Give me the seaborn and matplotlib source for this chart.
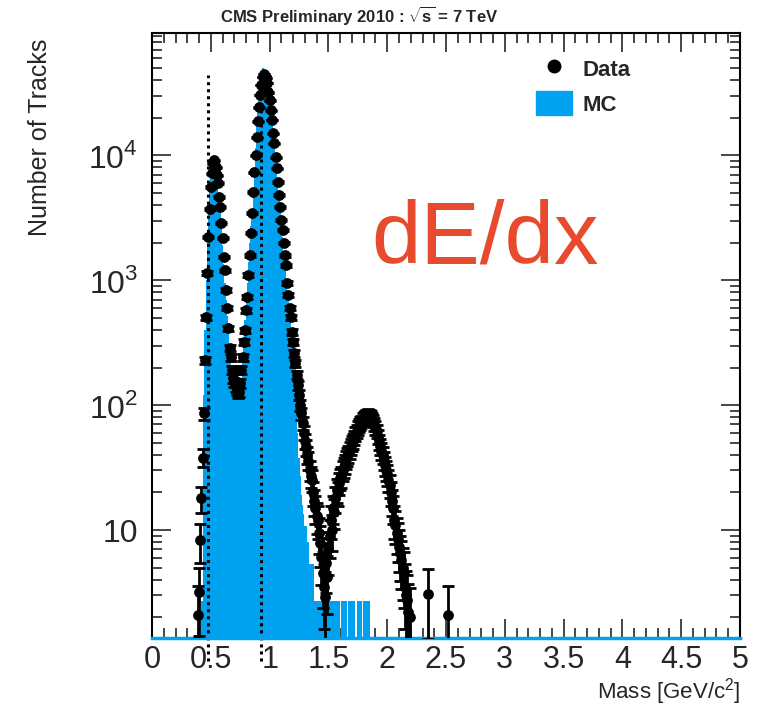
import matplotlib
matplotlib.use("Agg")
import matplotlib.pyplot as plt
from matplotlib.lines import Line2D
from matplotlib.patches import Patch
import numpy as np
import pandas as pd
import seaborn as sns

# data histogram: 0.01 GeV bins starting at 0.39
data_start = 0.39
data_counts = [
    2.1, 3.2, 8.3, 18, 38, 86, 229, 506, 1140, 2210,          # 0.39-0.48
    3700, 5550, 7180, 8630, 9120, 8000, 6900, 5970, 4610, 3840,  # 0.49-0.58
    2860, 2170, 1530, 1200, 830, 600, 413, 286, 242, 190,      # 0.59-0.68
    164, 153, 140, 132, 125, 128, 150, 190, 242, 319,          # 0.69-0.78
    398, 575, 731, 1100, 1585, 2380, 3440, 5060, 7310, 10000,  # 0.79-0.88
    13900, 18700, 24200, 30200, 36300, 42100, 44500, 43000, 41300, 37700,  # 0.89-0.98
    31900, 27500, 22900, 19100, 15000, 12500, 9640, 7870, 6080, 4790,  # 0.99-1.08
    3840, 3020, 2510, 1980, 1585, 1320, 946, 759, 597, 506,    # 1.09-1.18
    384, 319, 261, 217, 175, 145, 120, 100, 86, 72,            # 1.19-1.28
    60, 52, 46, 40, 36, 30, 27, 25, 20, 17,                    # 1.29-1.38
    15, 13, 12, 9.5, 7.9, 6.1, 4.5, 3.5, 2.9, 5.5,             # 1.39-1.48
    4.2, 7, 9, 12, 10, 15, 14, 18, 21, 20,                     # 1.49-1.58
    24, 26, 27, 30, 32, 34, 37, 39, 41, 44,                    # 1.59-1.68
    47, 50, 52, 55, 59, 62, 66, 69, 72, 74,                    # 1.69-1.78
    77, 79, 80, 82, 83, 84, 82, 80, 78, 75,                    # 1.79-1.88
    70, 66, 62, 56, 51, 47, 43, 40, 36, 33,                    # 1.89-1.98
    30, 28, 25, 23, 20, 17, 15, 12, 11, 9.5,                   # 1.99-2.08
    8.5, 7.3, 6.5, 5.8, 5, 4.5, 3.5, 3, 2.75, 2.2,             # 2.09-2.18
    2,                                                         # 2.19
]
# isolated entries in the far tail
tail_mass = [2.35, 2.52]
tail_counts = [3.1, 2.1]

# MC histogram: 0.01 GeV bins starting at 0.40
mc_start = 0.40
mc_counts = [
    0, 0, 2.7, 2.7, 120, 400, 1000, 2000, 3500, 5500,          # 0.40-0.49
    7800, 9300, 10000, 9600, 8600, 7600, 6300, 4800, 3600, 2600,  # 0.50-0.59
    1900, 1350, 950, 700, 520, 400, 310, 250, 200, 165,        # 0.60-0.69
    145, 130, 120, 116, 118, 130, 160, 220, 330, 480,          # 0.70-0.79
    700, 950, 1400, 2000, 2700, 3500, 5200, 7800, 11500, 17000,  # 0.80-0.89
    25000, 34000, 42000, 47000, 50000, 49500, 47000, 43000, 38500, 33000,  # 0.90-0.99
    27500, 23000, 19500, 15500, 12000, 9300, 7400, 5900, 4600, 3600,  # 1.00-1.09
    2800, 2200, 1700, 1350, 1050, 830, 680, 560, 480, 400,     # 1.10-1.19
    330, 270, 200, 116, 60, 38, 27, 19, 16, 13.5,              # 1.20-1.29
    10.8, 10.8, 8.1, 8.1, 5.4, 5.4, 5.4, 5.4, 2.7, 2.7,        # 1.30-1.39
    2.7, 2.7, 2.7, 2.7, 2.7, 2.7, 2.7, 2.7, 2.7, 2.7,          # 1.40-1.49
    2.7, 2.7, 2.7, 2.7, 2.7, 2.7, 2.7, 2.7, 2.7, 2.7,          # 1.50-1.59
    0, 2.7, 2.7, 2.7, 2.7, 2.7, 0, 2.7, 2.7, 2.7,              # 1.60-1.69
    2.7, 2.7, 2.7, 0, 0, 2.7, 2.7, 2.7, 2.7, 0,                # 1.70-1.79
    2.7, 2.7, 2.7, 2.7, 2.7, 2.7, 0, 0,                        # 1.80-1.87
]

mass_lines = [0.48, 0.925]
xtick_vals = [0, 0.5, 1, 1.5, 2, 2.5, 3, 3.5, 4, 4.5, 5]
xtick_labels = ["0", "0.5", "1", "1.5", "2", "2.5", "3", "3.5", "4", "4.5", "5"]
ytick_vals = [10, 100, 1000, 10000]
ytick_labels = ["10", "10$^2$", "10$^3$", "10$^4$"]

mc_color = "#00A2F0"
bw = 0.01

sns.set_style("ticks")
plt.rcParams['font.family'] = ['Liberation Sans', 'DejaVu Sans']
plt.rcParams['mathtext.fontset'] = 'custom'
plt.rcParams['mathtext.rm'] = 'Liberation Sans'
plt.rcParams['mathtext.bf'] = 'Liberation Sans:bold'

fig = plt.figure(figsize=(7.69, 7.06), dpi=100)
ax = fig.add_axes([0.1977, 0.0963, 0.7646, 0.857])
ax.set_yscale('log')

# MC filled histogram
mc_centres = mc_start + bw * np.arange(len(mc_counts))
mc_edges = list(np.append(mc_centres - bw / 2, mc_centres[-1] + bw / 2))
mc_df = pd.DataFrame({"mass": mc_centres, "count": mc_counts})
sns.histplot(data=mc_df, x="mass", weights="count", bins=mc_edges, element="step",
             fill=True, color=mc_color, alpha=1, linewidth=0, ax=ax, zorder=1)

# dotted lines at the kaon and proton masses
ax.vlines(mass_lines, ymin=0.9, ymax=43600, colors="black",
          linestyles=(0, (1, 1.3)), linewidth=2.2, clip_on=False, zorder=2)

# data points
d_mass = np.append(data_start + bw * np.arange(len(data_counts)), tail_mass)
d_counts = np.append(np.array(data_counts, dtype=float), tail_counts)
err = np.sqrt(d_counts)
lo = np.minimum(err, d_counts - 1e-3)
ax.errorbar(d_mass, d_counts, yerr=[lo, err], fmt="none", ecolor="black",
            elinewidth=2, capsize=4.5, capthick=2, zorder=3)
sns.scatterplot(x=d_mass, y=d_counts, color="black", s=60, edgecolor="black",
                linewidth=0, ax=ax, zorder=4)

ax.set_xlim(0, 5)
ax.set_ylim(1.37, 9.5e4)
ax.set_xticks(xtick_vals)
ax.set_xticklabels(xtick_labels, fontsize=22)
ax.xaxis.set_minor_locator(matplotlib.ticker.MultipleLocator(0.1))
ax.set_yticks(ytick_vals)
ax.set_yticklabels(ytick_labels, fontsize=23)
ax.tick_params(which="both", direction="in", top=True, right=True, width=1.2)
ax.tick_params(which="major", length=14)
ax.tick_params(which="minor", length=7)
ax.tick_params(axis="x", which="major", pad=5)
ax.tick_params(axis="y", which="major", pad=10)
ax.set_xlabel("")
ax.set_ylabel("")
for s in ax.spines.values():
    s.set_linewidth(1.5)
    s.set_color("black")
ax.spines["bottom"].set_color(mc_color)
ax.spines["bottom"].set_linewidth(2.5)

fig.text(0.963, 0.011, "Mass [GeV/c$^2$]", ha="right", va="baseline", fontsize=16)
fig.text(0.052, 0.945, "Number of Tracks", ha="center", va="top",
         rotation=90, fontsize=18)
fig.text(0.467, 0.978, r"CMS Preliminary 2010 : $\sqrt{\mathbf{s}}$ = 7 TeV",
         ha="center", va="center", fontsize=12, fontweight="bold")
fig.text(0.631, 0.66, "dE/dx", ha="center", va="center", fontsize=64,
         color="#E84A2E")

handles = [Line2D([], [], marker="o", color="black", linestyle="none", markersize=9),
           Patch(facecolor=mc_color, edgecolor=mc_color)]
ax.legend(handles, ["Data", "MC"], loc="upper left", frameon=False,
          bbox_to_anchor=(0.671, 0.948), bbox_transform=fig.transFigure,
          prop={"weight": "bold", "size": 16}, handlelength=1.6,
          handleheight=1.3, labelspacing=0.45, handletextpad=0.5)

fig.savefig("out.png", dpi=100)
